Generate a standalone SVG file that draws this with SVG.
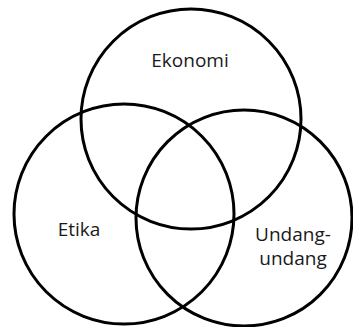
<svg xmlns="http://www.w3.org/2000/svg" width="353" height="327" viewBox="0 0 353 327">
  <style>
    .ring { fill: none; stroke: #000; stroke-width: 3; }
    .label { font-family: "Open Sans", "Liberation Sans", sans-serif; font-size: 19px; fill: #1a1a1a; text-anchor: middle; }
  </style>
  <rect width="353" height="327" fill="#fff"/>
  <g id="ekonomi">
    <circle class="ring" cx="191" cy="119" r="110"/>
    <text class="label" x="190" y="67">Ekonomi</text>
  </g>
  <g id="etika">
    <circle class="ring" cx="124" cy="214" r="110"/>
    <text class="label" x="79" y="236">Etika</text>
  </g>
  <g id="undang-undang">
    <circle class="ring" cx="244" cy="218" r="108"/>
    <text class="label" x="293" y="241">Undang-</text>
    <text class="label" x="293" y="265">undang</text>
  </g>
</svg>
